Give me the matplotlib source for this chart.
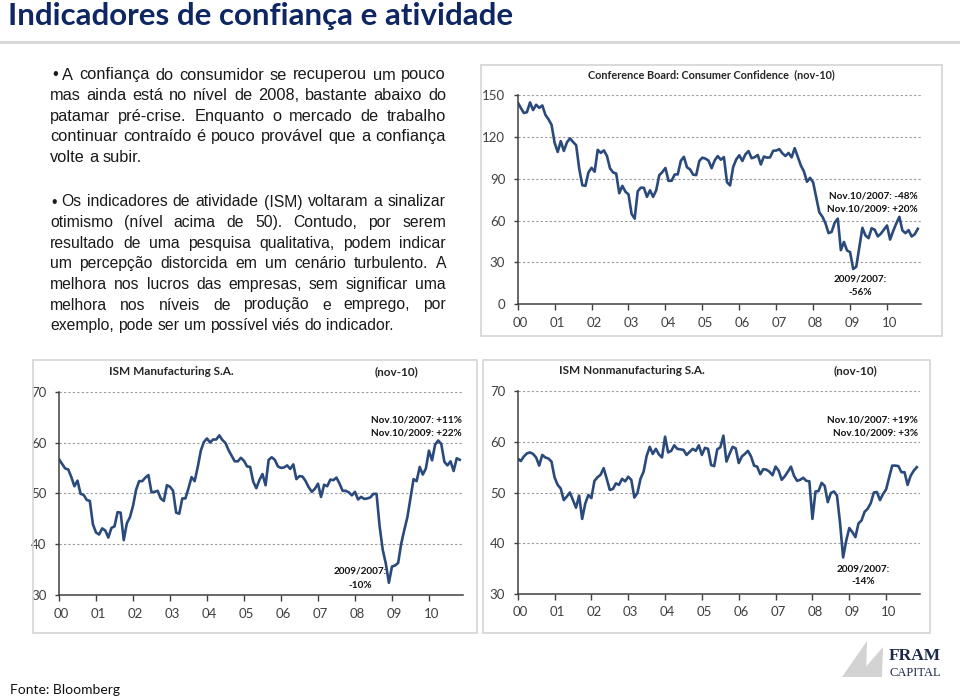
import numpy as np
import matplotlib
matplotlib.use("Agg")
import matplotlib.pyplot as plt
from matplotlib.patches import Rectangle, Polygon

W, H = 960, 699

# monthly series, jan-2000 .. nov-2010
year_labels = ["00", "01", "02", "03", "04", "05", "06", "07", "08", "09", "10"]

conf = [144.7, 140.8, 137.1, 137.7, 144.7, 139.2, 143.0, 140.8, 142.5, 135.8, 132.6, 128.6,
        115.7, 109.2, 116.9, 109.9, 116.1, 118.9, 116.3, 114.0, 97.0, 85.3, 84.9, 94.6,
        97.8, 95.0, 110.7, 108.5, 110.3, 106.3, 97.4, 94.5, 93.7, 79.6, 84.9, 80.7,
        78.8, 64.8, 61.4, 81.0, 83.6, 83.5, 77.0, 81.7, 77.0, 81.7, 92.5, 94.8,
        97.7, 88.5, 88.5, 93.0, 93.1, 102.8, 105.7, 98.2, 96.7, 92.9, 92.6, 102.7,
        105.1, 104.4, 103.0, 97.5, 103.1, 106.2, 103.6, 105.5, 87.5, 85.2, 98.3, 103.8,
        106.8, 102.7, 107.5, 109.8, 104.7, 105.4, 107.0, 100.2, 105.9, 105.1, 105.3, 110.0,
        110.2, 111.2, 108.2, 106.3, 108.5, 105.3, 111.9, 105.6, 99.5, 95.2, 87.8, 90.6,
        87.3, 76.4, 65.9, 62.8, 58.1, 51.0, 51.9, 58.5, 61.4, 38.8, 44.7, 38.6,
        37.4, 25.3, 26.9, 40.8, 54.8, 49.3, 47.4, 54.5, 53.4, 48.7, 50.6, 53.6,
        56.5, 46.4, 52.5, 57.9, 62.7, 52.9, 51.0, 53.2, 48.6, 50.2, 54.1]

ism_mfg = [56.7, 55.8, 54.9, 54.7, 53.2, 51.4, 52.5, 49.9, 49.7, 48.7, 48.5, 43.9,
           42.3, 41.9, 43.1, 42.7, 41.3, 43.2, 43.5, 46.3, 46.2, 40.8, 44.1, 45.3,
           47.5, 50.7, 52.4, 52.4, 53.1, 53.6, 50.2, 50.3, 50.5, 49.0, 48.5, 51.6,
           51.3, 50.5, 46.2, 46.0, 49.0, 49.0, 51.0, 53.2, 52.4, 55.2, 58.4, 60.1,
           60.8, 60.0, 60.6, 60.6, 61.4, 60.5, 59.9, 58.5, 57.4, 56.3, 56.3, 57.0,
           56.4, 55.3, 55.2, 52.3, 51.0, 52.6, 53.8, 51.6, 56.6, 57.1, 56.6, 55.3,
           55.0, 55.1, 55.5, 54.8, 55.7, 52.8, 53.4, 53.3, 52.4, 51.2, 50.3, 50.9,
           51.9, 49.3, 51.7, 51.4, 52.7, 52.6, 53.1, 51.9, 50.5, 50.5, 50.2, 49.6,
           50.3, 48.8, 49.3, 48.9, 49.0, 49.2, 49.9, 49.9, 43.5, 38.9, 36.2, 32.4,
           35.6, 35.8, 36.3, 40.1, 42.8, 45.3, 49.1, 52.8, 52.4, 55.2, 53.7, 54.9,
           58.4, 56.5, 59.6, 60.4, 59.7, 56.2, 55.5, 56.3, 54.4, 56.9, 56.6]

ism_nonmfg = [56.7, 56.2, 57.1, 57.7, 57.9, 57.6, 56.9, 55.3, 57.4, 56.9, 56.7, 56.1,
              53.0, 51.5, 50.8, 48.5, 49.2, 50.0, 48.5, 47.0, 49.4, 44.8, 47.8, 49.5,
              48.9, 52.3, 53.0, 53.5, 54.8, 52.7, 50.5, 50.7, 51.8, 51.5, 52.7, 52.2,
              53.1, 52.5, 49.0, 49.9, 52.7, 54.1, 57.2, 59.0, 57.6, 58.6, 57.5, 56.9,
              61.0, 57.9, 58.2, 59.3, 58.6, 58.5, 58.4, 57.4, 58.0, 58.6, 58.2, 59.3,
              57.4, 58.8, 58.6, 55.4, 55.2, 58.5, 58.9, 61.2, 56.1, 57.6, 59.0, 58.7,
              55.8, 57.1, 57.6, 58.2, 57.1, 55.3, 55.1, 53.6, 54.6, 54.5, 54.1, 53.4,
              55.1, 54.3, 52.5, 53.2, 54.1, 55.1, 53.3, 52.3, 52.5, 52.9, 52.3, 52.2,
              44.8, 50.2, 50.3, 51.9, 51.3, 48.1, 49.9, 50.2, 49.4, 44.0, 37.2, 40.5,
              43.0, 42.2, 41.2, 43.9, 44.5, 46.2, 46.8, 47.9, 50.0, 50.1, 48.5, 49.7,
              50.6, 53.0, 55.3, 55.3, 55.2, 54.0, 54.0, 51.5, 53.3, 54.3, 55.0]

para1 = ["A confiança do consumidor se recuperou um pouco",
         "mas ainda está no nível de 2008, bastante abaixo do",
         "patamar pré-crise. Enquanto o mercado de trabalho",
         "continuar contraído é pouco provável que a confiança",
         "volte a subir."]
para2 = ["Os indicadores de atividade (ISM) voltaram a sinalizar",
         "otimismo (nível acima de 50). Contudo, por serem",
         "resultado de uma pesquisa qualitativa, podem indicar",
         "um percepção distorcida em um cenário turbulento. A",
         "melhora nos lucros das empresas, sem significar uma",
         "melhora nos níveis de produção e emprego, por",
         "exemplo, pode ser um possível viés do indicador."]

LINE = "#2b4a7c"
NAVY = "#0e2763"
CFONT = "Lato"


def fx(x):
    return x / W


def fy(y):
    return 1 - y / H


fig = plt.figure(figsize=(W / 100, H / 100), dpi=100)
fig.patch.set_facecolor("white")
renderer = fig.canvas.get_renderer()

# title + rule
fig.text(fx(8), fy(16), "Indicadores de confiança e atividade", fontsize=22.5,
         fontweight="bold", color=NAVY, family=CFONT, va="center", ha="left")
fig.add_artist(plt.Line2D([0, 1], [fy(41.5), fy(41.5)], color="#d9d9d9", lw=2.2))


def justify(line, x0, x1, y, size, last=False):
    kw = dict(fontsize=size, family="Liberation Sans", color="#1a1a1a", va="center")
    words = line.split()
    objs = [fig.text(0, fy(y), w, **kw) for w in words]
    widths = [o.get_window_extent(renderer).width for o in objs]
    if last:
        probe = fig.text(0, 0, "a a", **kw)
        probe2 = fig.text(0, 0, "aa", **kw)
        gap = probe.get_window_extent(renderer).width - probe2.get_window_extent(renderer).width
        probe.remove()
        probe2.remove()
    else:
        gap = (x1 - x0 - sum(widths)) / (len(words) - 1)
    x = x0
    for o, w in zip(objs, widths):
        o.set_x(fx(x))
        x += w + gap


def paragraph(lines, top, first_x, size):
    fig.text(fx(first_x - 10), fy(top), "•", fontsize=size, family="Liberation Sans",
             color="#1a1a1a", va="center")
    for i, ln in enumerate(lines):
        x0 = first_x if i == 0 else 50
        justify(ln, x0, 446, top + i * 20.6, size, last=(i == len(lines) - 1))


paragraph(para1, 75, 62, 11.8)
paragraph(para2, 202, 61, 11.3)


def chart(box, area, series, ylim, yticks, titles, notes, tsize):
    bx0, by0, bx1, by1 = box
    fig.add_artist(Rectangle((fx(bx0), fy(by1)), (bx1 - bx0) / W, (by1 - by0) / H,
                             transform=fig.transFigure, fill=False, ec="#d4d4d4", lw=1.2))
    l, t, r, b = area
    ax = fig.add_axes([fx(l), fy(b), (r - l) / W, (b - t) / H])
    months = np.arange(len(series)) / 12.0
    ax.plot(months, series, color=LINE, lw=1.9, solid_joinstyle="round")
    ax.set_xlim(0, 10.92)
    ax.set_ylim(*ylim)
    ax.set_yticks(yticks)
    ax.set_yticklabels([str(v) for v in yticks], family=CFONT, fontsize=9.5, color="#404040")
    ax.set_xticks(np.arange(11))
    ax.set_xticklabels([])
    ax.set_xticks(np.arange(11) + 0.07, minor=True)
    ax.set_xticklabels(year_labels, minor=True, family=CFONT, fontsize=9.5, color="#404040")
    ax.tick_params(axis="x", which="major", length=4, width=1, color="#404040", direction="out")
    ax.tick_params(axis="x", which="minor", length=0, pad=9)
    ax.tick_params(axis="y", length=3, width=1, color="#404040", pad=6)
    for s in ["top", "right"]:
        ax.spines[s].set_visible(False)
    for s in ["left", "bottom"]:
        ax.spines[s].set_color("#404040")
        ax.spines[s].set_linewidth(1.1)
    ax.yaxis.grid(True, ls=(0, (2, 2)), color="#9a9a9a", lw=0.8)
    ax.set_axisbelow(True)
    ax.patch.set_alpha(0)
    for txt, x, y in titles:
        fig.text(fx(x), fy(y), txt, family=CFONT, fontsize=tsize, fontweight="bold",
                 color="#262626", ha="center", va="center")
    for txt, x, y, ha in notes:
        fig.text(fx(x), fy(y), txt, family=CFONT, fontsize=7.2, fontweight="bold",
                 color="#111111", ha=ha, va="center")
    return ax


chart((481, 65, 942, 336), (517.7, 95, 921, 304.3), conf, (0, 150), [0, 30, 60, 90, 120, 150],
      [("Conference Board: Consumer Confidence  (nov-10)", 711.7, 75)],
      [("Nov.10/2007: -48%", 918, 196, "right"), ("Nov.10/2009: +20%", 918, 209, "right"),
       ("2009/2007:", 860, 279, "center"), ("-56%", 860, 292.5, "center")], 7.8)

chart((33, 360, 477, 633), (59, 391.7, 463, 595), ism_mfg, (30, 70), [30, 40, 50, 60, 70],
      [("ISM Manufacturing S.A.", 171.7, 371.5), ("(nov-10)", 396.7, 371.5)],
      [("Nov.10/2007: +11%", 462, 420, "right"), ("Nov.10/2009: +22%", 462, 432.5, "right"),
       ("2009/2007:", 360, 571.5, "center"), ("-10%", 360, 585, "center")], 8.5)

chart((483, 360, 930, 633), (517.7, 391, 920, 594), ism_nonmfg, (30, 70), [30, 40, 50, 60, 70],
      [("ISM Nonmanufacturing S.A.", 631.7, 371), ("(nov-10)", 856, 371)],
      [("Nov.10/2007: +19%", 918, 420, "right"), ("Nov.10/2009: +3%", 918, 433, "right"),
       ("2009/2007:", 863, 569, "center"), ("-14%", 863, 582, "center")], 8.5)

# source + logo
fig.text(fx(10), fy(690), "Fonte: Bloomberg", family=CFONT, fontsize=10, color="#111111",
         va="center", ha="left")
for pts in ([(842, 677), (867, 641), (866, 677)], [(857, 677), (883, 647), (882, 677)]):
    fig.add_artist(Polygon([(fx(a), fy(b)) for a, b in pts], closed=True,
                           transform=fig.transFigure, fc="#d3d3d3", ec="none"))
fig.text(fx(889), fy(656.5), "FRAM", family="Liberation Serif", fontsize=12.5,
         fontweight="bold", color="#1c2a48", va="center", ha="left")
fig.text(fx(890), fy(673), "CAPITAL", family="Liberation Serif", fontsize=9,
         color="#1c2a48", va="center", ha="left")

fig.savefig("out.png", dpi=100)
